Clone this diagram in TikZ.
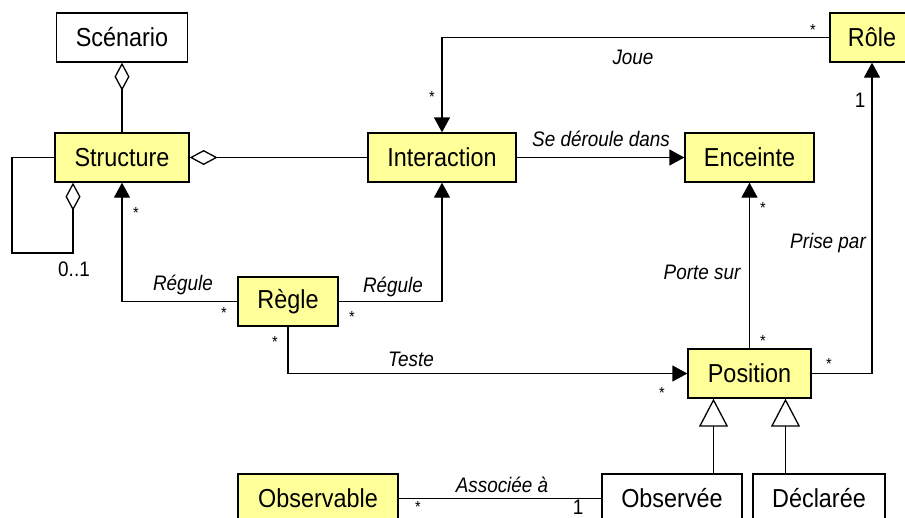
\documentclass[tikz,border=0pt]{standalone}
\usepackage{fontspec}
\setmainfont{Liberation Sans}[FakeStretch=0.9]
\usetikzlibrary{arrows.meta}
\definecolor{jaune}{RGB}{255,255,153}
\tikzset{
  classe/.style={draw, line width=1.3pt, fill=jaune, minimum height=49pt, inner sep=0pt,
    font=\fontsize{26}{28}\selectfont},
  classeblanche/.style={classe, fill=white},
  lien/.style={line width=1.3pt},
  nav/.style={lien, -{Triangle[length=15pt,width=16pt]}},
  herite/.style={lien, -{Triangle[open,length=28pt,width=29pt]}},
  agreg/.style={lien, -{Diamond[open,length=28pt,width=15pt]}},
  nomrole/.style={font=\fontsize{21}{23}\selectfont\itshape},
  mult/.style={inner sep=1pt, font=\fontsize{16}{18}\selectfont},
  card/.style={inner sep=1pt, font=\fontsize{21}{23}\selectfont},
}
\begin{document}
\begin{tikzpicture}[x=1pt,y=-1pt]
\path[use as bounding box, fill=white] (0,0) rectangle (905,517);
% CLASSES
\node[classeblanche, minimum width=131pt] at (122,37.5) (scenario) {Scénario};
\node[classe, minimum width=134pt] at (122,157.5) (structure) {Structure};
\node[classe, minimum width=148pt] at (442,157.5) (interaction) {Interaction};
\node[classe, minimum width=129pt] at (749.5,157.5) (enceinte) {Enceinte};
\node[classe, minimum width=84pt] at (872,37.5) (role) {Rôle};
\node[classe, minimum width=100pt] at (288,301.5) (regle) {Règle};
\node[classe, minimum width=123pt] at (749.5,373.5) (position) {Position};
\node[classe, minimum width=160pt] at (318,498.5) (observable) {Observable};
\node[classeblanche, minimum width=140pt] at (672,498.5) (observee) {Observée};
\node[classeblanche, minimum width=132pt] at (819,498.5) (declaree) {Déclarée};
% AGGREGATIONS
\draw[agreg] (structure.north) -- (scenario.south);
\draw[agreg] (interaction.west) -- (structure.east);
\draw[agreg] (structure.west) -| (12,253) -| ([xshift=-49pt]structure.south);
% ASSOCIATIONS
\draw[nav] (role.west) -| (interaction.north);
\draw[nav] (interaction.east) -- (enceinte.west);
\draw[nav] (regle.west) -| (structure.south);
\draw[nav] (regle.east) -| (interaction.south);
\draw[nav] (regle.south) |- (position.west);
\draw[nav] (position.north) -- (enceinte.south);
\draw[nav] (position.east) -| (role.south);
\draw[lien] (observable.east) -- (observee.west);
% HERITAGE
\coordinate (genobs) at ([xshift=-36pt]position.south);
\coordinate (gendecl) at ([xshift=36pt]position.south);
\draw[herite] (observee.north -| genobs) -- (genobs);
\draw[herite] (declaree.north -| gendecl) -- (gendecl);
% TEXT
\node[nomrole] at (633,57) (joue) {Joue};
\node[nomrole] at (601,139) (deroule) {Se déroule dans};
\node[nomrole] at (183,285) (regule_g) {Régule};
\node[nomrole] at (393,287) (regule_d) {Régule};
\node[nomrole] at (411,359) (teste) {Teste};
\node[nomrole] at (702,272) (porte) {Porte sur};
\node[nomrole] at (828,243) (prise) {Prise par};
\node[nomrole] at (502,485) (associee) {Associée à};
\node[card] at (74,269) (card_loop) {0..1};
\node[card] at (860,100) (card_role) {1};
\node[card] at (578,507) (card_obs) {1};
\node[mult] at (813,30) (m_role) {*};
\node[mult] at (432,97) (m_inter) {*};
\node[mult] at (136,213) (m_struct) {*};
\node[mult] at (224,313) (m_regle_g) {*};
\node[mult] at (352,317) (m_regle_d) {*};
\node[mult] at (275,342) (m_regle_b) {*};
\node[mult] at (662,393) (m_pos_g) {*};
\node[mult] at (763,341) (m_pos_h) {*};
\node[mult] at (829,364) (m_pos_d) {*};
\node[mult] at (763,208) (m_enc) {*};
\node[mult] at (418,507) (m_observable) {*};
\end{tikzpicture}
\end{document}
